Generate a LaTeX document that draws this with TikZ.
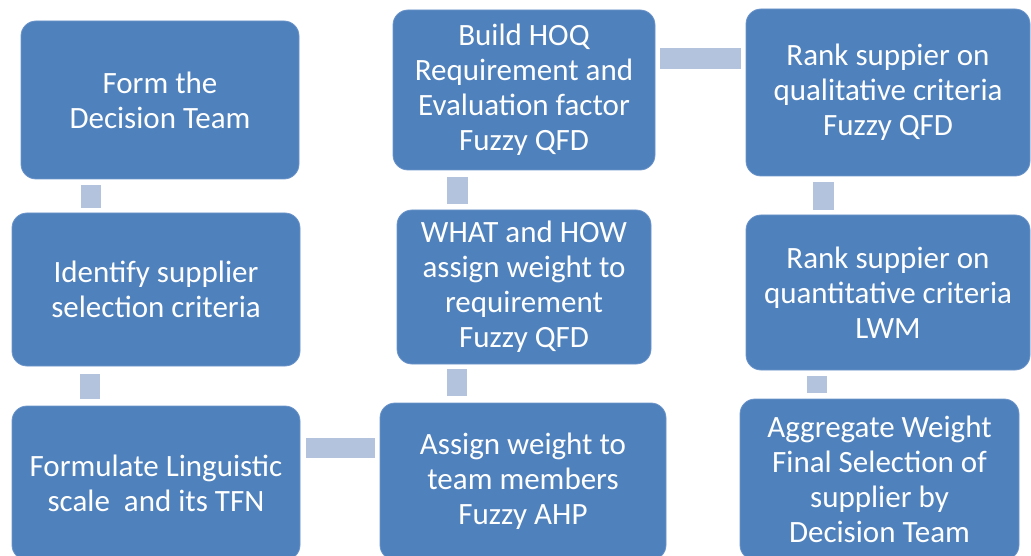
\documentclass[tikz,border=0pt]{standalone}
\usepackage{fontspec}
\setmainfont{Carlito}
\usetikzlibrary{calc}
\definecolor{boxblue}{HTML}{4F81BD}
\definecolor{boxedge}{HTML}{6D95CA}
\definecolor{barblue}{HTML}{B3C3DE}
\tikzset{
  stepbox/.style={rectangle, rounded corners=15pt, fill=boxblue, draw=boxedge,
    line width=0.8pt, inner sep=0pt, text=white, align=center,
    font=\fontsize{31}{35}\selectfont},
  linkbar/.style={draw=barblue, line width=#1, line cap=butt},
  linkbar/.default=20pt
}
\begin{document}
\begin{tikzpicture}[x=1pt, y=-1pt]
  \useasboundingbox (0,0) rectangle (1031,556);
  \clip (0,0) rectangle (1031,556);
  % process steps
  \node[stepbox, minimum width=278pt, minimum height=158pt] (b1) at (160,100)
    {Form the\\Decision Team};
  \node[stepbox, minimum width=288pt, minimum height=153pt] (b2) at (156,289.5)
    {Identify supplier\\selection criteria};
  \node[stepbox, minimum width=288pt, minimum height=154pt] (b3) at (156,483)
    {Formulate Linguistic\\scale\ \ and its TFN};
  \node[stepbox, minimum width=286pt, minimum height=157pt] (b4) at (523,481.5)
    {Assign weight to\\team members\\Fuzzy AHP};
  \node[stepbox, minimum width=254pt, minimum height=154pt] (b5) at (524,287)
    {WHAT and HOW\\assign weight to\\requirement\\Fuzzy QFD};
  \node[stepbox, minimum width=262pt, minimum height=160pt] (b6) at (524,90)
    {Build HOQ\\Requirement and\\Evaluation factor\\Fuzzy QFD};
  \node[stepbox, minimum width=284pt, minimum height=167pt] (b7) at (888,92.5)
    {Rank suppier on\\qualitative criteria\\Fuzzy QFD};
  \node[stepbox, minimum width=284pt, minimum height=155pt] (b8) at (888,292.5)
    {Rank suppier on\\quantitative criteria\\LWM};
  \node[stepbox, minimum width=279pt, minimum height=161pt] (b9) at (879.5,479.5)
    {Aggregate Weight\\Final Selection of\\supplier by\\Decision Team};
  % links between steps
  \draw[linkbar] ($(b1.south)+(-69,6)$) -- ($(b2.north)+(-65,-5)$);
  \draw[linkbar] ($(b2.south)+(-66,8)$) -- ($(b3.north)+(-66,-7)$);
  \draw[linkbar] ($(b3.east)+(6,-35)$) -- ($(b4.west)+(-5,-33.5)$);
  \draw[linkbar] ($(b4.north)+(-66,-7)$) -- ($(b5.south)+(-67,5)$);
  \draw[linkbar=21pt] ($(b5.north)+(-66.5,-6)$) -- ($(b6.south)+(-66.5,7)$);
  \draw[linkbar=21pt] ($(b6.east)+(5,-31.5)$) -- ($(b7.west)+(-5,-34)$);
  \draw[linkbar=21pt] ($(b7.south)+(-64.5,6)$) -- ($(b8.north)+(-64.5,-5)$);
  \draw[linkbar] ($(b8.south)+(-71,6)$) -- ($(b9.north)+(-62.5,-6)$);
\end{tikzpicture}
\end{document}
